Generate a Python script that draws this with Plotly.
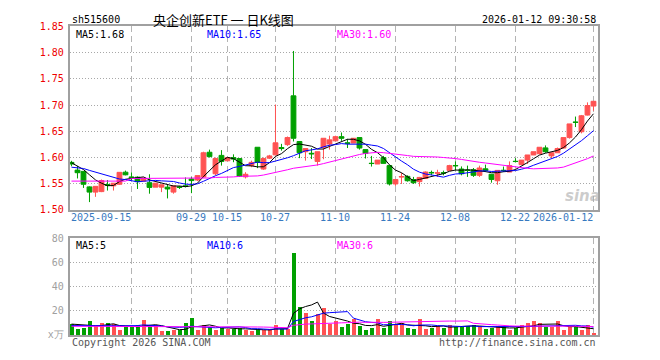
import plotly.graph_objects as go

# ---------------- data ----------------
dates = (
    ["2025-09-%02d" % d for d in [1, 2, 3, 4, 5, 8, 9, 10, 11, 12, 15, 16, 17, 18, 19, 22, 23, 24, 25, 26, 29, 30]]
    + ["2025-10-%02d" % d for d in [9, 10, 13, 14, 15, 16, 17, 20, 21, 22, 23, 24, 27, 28, 29, 30, 31]]
    + ["2025-11-%02d" % d for d in [3, 4, 5, 6, 7, 10, 11, 12, 13, 14, 17, 18, 19, 20, 21, 24, 25, 26, 27, 28]]
    + ["2025-12-%02d" % d for d in [1, 2, 3, 4, 5, 8, 9, 10, 11, 12, 15, 16, 17, 18, 19, 22, 23, 24, 25, 26, 29, 30, 31]]
    + ["2026-01-%02d" % d for d in [5, 6, 7, 8, 9, 12]]
)

open_ = [1.5907, 1.576, 1.5735, 1.544, 1.534, 1.535, 1.5485, 1.546, 1.549, 1.572,
         1.563, 1.5625, 1.555, 1.552, 1.5435, 1.5435, 1.5435, 1.534, 1.544, 1.546,
         1.559, 1.557, 1.563, 1.610, 1.569, 1.604, 1.5937, 1.5998, 1.598, 1.5631,
         1.5846, 1.6195, 1.578, 1.5987, 1.605, 1.619, 1.6245, 1.7175, 1.6305, 1.611,
         1.608, 1.5925, 1.6195, 1.6256, 1.6317, 1.6397, 1.628, 1.6275, 1.638, 1.615,
         1.589, 1.5876, 1.5998, 1.5845, 1.5496, 1.5628, 1.564, 1.558, 1.554, 1.560,
         1.5715, 1.5700, 1.5708, 1.5754, 1.5848, 1.578, 1.5758, 1.5766, 1.566, 1.5784,
         1.568, 1.5557, 1.5757, 1.5723, 1.5928, 1.5864, 1.595, 1.6048, 1.6072, 1.6183,
         1.603, 1.609, 1.618, 1.6379, 1.6675, 1.649, 1.6808, 1.698]
high = [1.5937, 1.584, 1.5735, 1.545, 1.545, 1.558, 1.557, 1.551, 1.5717, 1.575,
        1.5717, 1.564, 1.5615, 1.568, 1.551, 1.548, 1.548, 1.546, 1.546, 1.562,
        1.563, 1.5655, 1.611, 1.615, 1.600, 1.614, 1.600, 1.606, 1.598, 1.572,
        1.594, 1.6195, 1.600, 1.605, 1.701, 1.626, 1.640, 1.803, 1.6305, 1.617,
        1.618, 1.611, 1.6366, 1.6415, 1.6415, 1.6477, 1.6354, 1.6366, 1.638, 1.615,
        1.603, 1.595, 1.603, 1.5845, 1.558, 1.5705, 1.566, 1.563, 1.563, 1.5735,
        1.575, 1.5766, 1.575, 1.586, 1.5925, 1.583, 1.5845, 1.580, 1.5845, 1.5864,
        1.568, 1.5754, 1.5827, 1.5925, 1.5986, 1.595, 1.6048, 1.611, 1.6195, 1.623,
        1.609, 1.619, 1.6379, 1.664, 1.678, 1.681, 1.705, 1.7071]
low = [1.5833, 1.560, 1.542, 1.515, 1.525, 1.534, 1.537, 1.537, 1.548, 1.566,
       1.557, 1.540, 1.554, 1.531, 1.5435, 1.534, 1.522, 1.531, 1.540, 1.543,
       1.532, 1.555, 1.562, 1.600, 1.566, 1.5845, 1.5937, 1.591, 1.5635, 1.560,
       1.5815, 1.5797, 1.5766, 1.597, 1.604, 1.613, 1.622, 1.6305, 1.5987, 1.594,
       1.597, 1.5845, 1.5967, 1.615, 1.6317, 1.6317, 1.618, 1.6275, 1.615, 1.598,
       1.5827, 1.5876, 1.5888, 1.5466, 1.546, 1.5496, 1.554, 1.5496, 1.5447, 1.559,
       1.566, 1.563, 1.566, 1.5754, 1.5754, 1.566, 1.563, 1.563, 1.563, 1.5723,
       1.552, 1.548, 1.5723, 1.5723, 1.5905, 1.5864, 1.5876, 1.6048, 1.6060, 1.609,
       1.5986, 1.609, 1.617, 1.636, 1.658, 1.646, 1.680, 1.689]
close = [1.5876, 1.571, 1.549, 1.534, 1.545, 1.556, 1.547, 1.551, 1.5717, 1.567,
         1.5615, 1.554, 1.5607, 1.543, 1.551, 1.548, 1.540, 1.546, 1.543, 1.545,
         1.556, 1.5655, 1.609, 1.6017, 1.598, 1.5925, 1.600, 1.597, 1.5643, 1.568,
         1.5907, 1.5907, 1.598, 1.603, 1.628, 1.617, 1.638, 1.6366, 1.609, 1.617,
         1.607, 1.611, 1.6366, 1.6336, 1.6397, 1.6366, 1.627, 1.6366, 1.618, 1.6078,
         1.5885, 1.595, 1.5888, 1.5496, 1.558, 1.5635, 1.5557, 1.552, 1.562, 1.5723,
         1.5708, 1.5707, 1.5703, 1.5845, 1.5842, 1.569, 1.5752, 1.566, 1.580, 1.5754,
         1.5582, 1.5754, 1.5752, 1.5845, 1.5923, 1.595, 1.6048, 1.611, 1.6195, 1.611,
         1.609, 1.617, 1.6379, 1.664, 1.667, 1.6795, 1.699, 1.7071]
volume = [8.6, 4.8, 5.9, 11.3, 7.5, 9.4, 9.4, 8.6, 4.0, 6.7,
          6.7, 8.0, 11.8, 8.0, 8.0, 2.7, 3.2, 4.0, 4.0, 9.4,
          13.4, 4.0, 8.0, 6.7, 4.0, 5.9, 4.8, 4.8, 5.9, 4.0,
          3.2, 4.6, 4.0, 4.8, 8.0, 4.5, 5.0, 67.2, 23.2, 17.6,
          11.2, 16.8, 21.9, 9.0, 11.2, 6.7, 8.7, 12.8, 7.2, 4.0,
          5.9, 12.8, 5.9, 11.2, 8.8, 9.5, 5.9, 4.8, 13.0, 4.8,
          5.9, 7.5, 5.9, 8.0, 6.7, 7.5, 7.5, 8.0, 7.2, 4.8,
          5.9, 7.5, 6.7, 4.0, 5.4, 8.0, 9.5, 11.0, 10.0, 6.7,
          6.7, 11.0, 4.0, 6.0, 7.0, 3.5, 8.0, 1.3]

# moving-average values before the window is full
ma5_head = [1.590, 1.584, 1.577, 1.567]
ma10_head = [1.5815, 1.5797, 1.5790, 1.5754, 1.572, 1.569, 1.566, 1.562, 1.559]
ma30_head = [1.555] * 10 + [1.560] * 12 + [1.561, 1.561, 1.562, 1.562, 1.563, 1.563, 1.564]
vma5_head = [9.0, 8.6, 8.2, 8.0]
vma10_head = [7.8, 7.7, 7.6, 7.6, 7.7, 7.8, 7.8, 7.7, 7.6]
vma30_head = [7.2] * 20 + [6.9] * 9

tick_dates = ["2025-09-15", "2025-09-29", "2025-10-15", "2025-10-27", "2025-11-10",
              "2025-11-24", "2025-12-08", "2025-12-22", "2026-01-12"]
tick_labels = ["2025-09-15", "09-29", "10-15", "10-27", "11-10", "11-24", "12-08", "12-22", "2026-01-12"]
price_ticks = [1.50, 1.55, 1.60, 1.65, 1.70, 1.75, 1.80, 1.85]
vol_ticks = [0, 20, 40, 60, 80]
vol_ticktext = ["x万", "20", "40", "60", "80"]

# ---------------- helpers ----------------
def moving_avg(vals, n, head):
    out = []
    for i in range(len(vals)):
        if i >= n - 1:
            out.append(sum(vals[i - n + 1:i + 1]) / n)
        else:
            out.append(head[i])
    return out

W, H = 660, 360
def px(x):
    return x / W
def py(y):
    return 1 - y / H

RED = "#ff5252"
GREEN = "#00a000"
MONO = "DejaVu Sans Mono"
GRID = "#a8a8a8"
BORDER = "#a0a0a0"

idx = list(range(len(dates)))
ma5 = moving_avg(close, 5, ma5_head)
ma10 = moving_avg(close, 10, ma10_head)
ma30 = moving_avg(close, 30, ma30_head)
vma5 = moving_avg(volume, 5, vma5_head)
vma10 = moving_avg(volume, 10, vma10_head)
vma30 = moving_avg(volume, 30, vma30_head)
vol_colors = [RED if c >= o else GREEN for o, c in zip(open_, close)]
tick_idx = [dates.index(d) for d in tick_dates]

fig = go.Figure()
fig.add_trace(go.Candlestick(
    x=idx, open=open_, high=high, low=low, close=close,
    xaxis="x", yaxis="y", whiskerwidth=0, hoverinfo="skip", showlegend=False,
    increasing=dict(line=dict(color=RED, width=1), fillcolor=RED),
    decreasing=dict(line=dict(color=GREEN, width=1), fillcolor=GREEN),
))
for vals, col in [(ma5, "#000000"), (ma10, "#0000ff"), (ma30, "#ff00ff")]:
    fig.add_trace(go.Scatter(x=idx, y=vals, mode="lines", line=dict(color=col, width=1),
                             xaxis="x", yaxis="y", hoverinfo="skip", showlegend=False))
fig.add_trace(go.Bar(x=idx, y=volume, marker=dict(color=vol_colors, line=dict(width=0)),
                     width=0.8, xaxis="x2", yaxis="y2", hoverinfo="skip", showlegend=False))
for vals, col in [(vma5, "#000000"), (vma10, "#0000ff"), (vma30, "#ff00ff")]:
    fig.add_trace(go.Scatter(x=idx, y=vals, mode="lines", line=dict(color=col, width=1),
                             xaxis="x2", yaxis="y2", hoverinfo="skip", showlegend=False))

xdom = [px(69.5), px(597.5)]
xrange_ = [-0.33, 87.67]
common_x = dict(domain=xdom, range=xrange_, tickvals=tick_idx, showticklabels=False, ticks="",
                showgrid=True, gridcolor="#b4b4b4", griddash="6px,4px", gridwidth=1,
                showline=True, mirror=True, linecolor=BORDER, linewidth=1.5, zeroline=False,
                fixedrange=True)

fig.update_layout(
    width=W, height=H, margin=dict(l=0, r=0, t=0, b=0),
    paper_bgcolor="white", plot_bgcolor="white",
    boxgap=0.2, boxgroupgap=0, bargap=0,
    xaxis=dict(anchor="y", rangeslider=dict(visible=False), **common_x),
    xaxis2=dict(anchor="y2", **common_x),
    yaxis=dict(domain=[py(211), py(21)], range=[1.50, 1.85], tickvals=price_ticks,
               ticktext=["%.2f" % v for v in price_ticks], ticks="",
               tickfont=dict(family=MONO, size=10, color="#ee0000"),
               showgrid=True, gridcolor=GRID, griddash="1px,2px", gridwidth=1,
               showline=True, mirror=True, linecolor=BORDER, linewidth=1.5, zeroline=False,
               anchor="x", fixedrange=True, ticklabelstandoff=2),
    yaxis2=dict(domain=[py(340.3), py(240.3)], range=[0, 80], tickvals=vol_ticks,
                ticktext=vol_ticktext, ticks="",
                tickfont=dict(family=MONO, size=10, color="#a0a0a0"),
                showgrid=True, gridcolor=GRID, griddash="1px,2px", gridwidth=1,
                showline=True, mirror=True, linecolor=BORDER, linewidth=1.5, zeroline=False,
                anchor="x2", fixedrange=True, ticklabelstandoff=2),
)

ann = []
def text(x, y, s, color="#000", size=10, family=MONO, xanchor="left", xref="paper"):
    ann.append(dict(x=x if xref != "paper" else px(x), y=py(y), xref=xref, yref="paper", text=s,
                    showarrow=False, xanchor=xanchor, yanchor="middle",
                    font=dict(family=family, size=size, color=color)))

text(69.5, 14, "sh515600")
text(151, 14, "央企创新ETF 一 日K线图", size=13, family="Noto Sans CJK SC")
text(598, 14, "2026-01-12 09:30:58", xanchor="right")
text(74, 29, "MA5:%.2f" % ma5[-1], color="#000000")
text(205, 29, "MA10:%.2f" % ma10[-1], color="#0000ff")
text(335, 29, "MA30:%.2f" % ma30[-1], color="#ff00ff")
text(74, 248, "MA5:%d" % int(vma5[-1]), color="#000000")
text(205, 248, "MA10:%d" % int(vma10[-1]), color="#0000ff")
text(335, 248, "MA30:%d" % int(vma30[-1]), color="#ff00ff")
text(69.5, 348, "Copyright 2026 SINA.COM", color="#555555")
text(598, 348, "http://finance.sina.com.cn", color="#555555", xanchor="right")
for k, (ti, lab) in enumerate(zip(tick_idx, tick_labels)):
    anchor = "right" if len(lab) > 5 else "center"
    xoff = 0.25 if len(lab) > 5 else 0
    text(ti + xoff, 219, lab, color="#3779c0", xanchor=anchor, xref="x")
# watermark
text(582, 197, "<b><i>sina</i></b>", color="rgba(170,170,170,0.6)", size=15,
     family="DejaVu Sans", xanchor="center")
fig.update_layout(annotations=ann)

fig.write_html("out.html")
